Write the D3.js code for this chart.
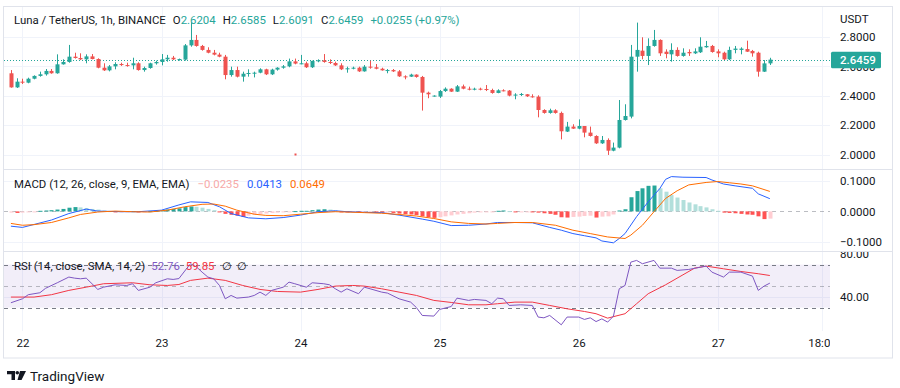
<!DOCTYPE html>
<html>
<head>
<meta charset="utf-8">
<script src="https://cdn.jsdelivr.net/npm/d3@7"></script>
<style>
  body { margin: 0; background: #fff; }
  svg { display: block; font-family: Roboto, "Noto Sans", sans-serif; }
</style>
</head>
<body>
<div id="container"></div>
<script>
// ---- data: hourly candles, first one is the 21st 22:00 ----
const open = [2.553,2.457,2.496,2.489,2.516,2.535,2.546,2.569,2.553,2.614,2.630,2.666,2.657,2.648,2.668,2.650,2.591,2.573,2.600,2.616,
  2.609,2.607,2.621,2.575,2.589,2.621,2.630,2.648,2.659,2.648,2.646,2.743,2.780,2.739,2.712,2.693,2.680,2.666,2.541,2.575,
  2.530,2.550,2.555,2.557,2.580,2.546,2.578,2.591,2.600,2.634,2.619,2.621,2.594,2.637,2.641,2.630,2.623,2.607,2.580,2.587,
  2.591,2.566,2.598,2.594,2.584,2.573,2.575,2.566,2.532,2.530,2.544,2.528,2.421,2.396,2.394,2.432,2.448,2.428,2.464,2.448,
  2.442,2.448,2.446,2.439,2.419,2.437,2.435,2.401,2.408,2.410,2.396,2.394,2.303,2.283,2.301,2.283,2.156,2.190,2.176,2.194,
  2.149,2.126,2.076,2.099,2.026,2.047,2.235,2.258,2.666,2.707,2.671,2.739,2.780,2.700,2.682,2.712,2.671,2.698,2.689,2.696,
  2.730,2.739,2.702,2.693,2.648,2.712,2.712,2.718,2.705,2.693,2.564,2.6204];
const high = [2.575,2.519,2.516,2.523,2.539,2.564,2.582,2.582,2.682,2.648,2.746,2.693,2.689,2.682,2.684,2.655,2.621,2.609,2.628,2.625,
  2.625,2.659,2.628,2.598,2.625,2.639,2.684,2.678,2.671,2.653,2.752,2.900,2.814,2.746,2.730,2.712,2.693,2.678,2.598,2.598,
  2.564,2.580,2.564,2.587,2.584,2.584,2.594,2.609,2.653,2.653,2.678,2.632,2.639,2.648,2.684,2.648,2.632,2.621,2.598,2.598,
  2.598,2.609,2.639,2.616,2.591,2.582,2.582,2.575,2.539,2.550,2.546,2.535,2.428,2.403,2.439,2.457,2.451,2.473,2.476,2.462,
  2.455,2.455,2.473,2.448,2.444,2.444,2.439,2.417,2.419,2.412,2.410,2.403,2.308,2.312,2.308,2.292,2.222,2.206,2.239,2.194,
  2.190,2.131,2.126,2.110,2.081,2.371,2.342,2.746,2.898,2.798,2.791,2.848,2.784,2.716,2.757,2.730,2.723,2.716,2.723,2.798,
  2.773,2.746,2.716,2.700,2.734,2.739,2.730,2.775,2.712,2.700,2.643,2.6585];
const low = [2.455,2.453,2.480,2.485,2.512,2.530,2.537,2.550,2.550,2.612,2.625,2.653,2.643,2.621,2.648,2.587,2.569,2.566,2.580,2.603,
  2.598,2.580,2.571,2.564,2.584,2.612,2.607,2.632,2.643,2.639,2.639,2.734,2.734,2.707,2.689,2.675,2.662,2.512,2.530,2.525,
  2.496,2.530,2.525,2.553,2.541,2.541,2.571,2.584,2.594,2.614,2.614,2.589,2.589,2.628,2.625,2.616,2.603,2.575,2.557,2.580,
  2.562,2.564,2.584,2.580,2.571,2.553,2.562,2.528,2.512,2.528,2.523,2.299,2.383,2.394,2.385,2.426,2.426,2.426,2.444,2.437,
  2.437,2.437,2.432,2.414,2.417,2.430,2.396,2.376,2.398,2.392,2.387,2.253,2.278,2.278,2.278,2.103,2.153,2.174,2.172,2.117,
  2.122,2.072,2.072,1.997,2.022,2.042,2.231,2.246,2.564,2.648,2.609,2.734,2.671,2.655,2.632,2.666,2.666,2.671,2.684,2.691,
  2.727,2.693,2.662,2.643,2.643,2.689,2.682,2.698,2.666,2.530,2.562,2.6091];
const close = [2.457,2.496,2.489,2.516,2.535,2.546,2.569,2.553,2.614,2.630,2.666,2.657,2.648,2.668,2.650,2.591,2.573,2.600,2.616,2.609,
  2.607,2.621,2.575,2.589,2.621,2.630,2.648,2.659,2.648,2.650,2.743,2.780,2.739,2.712,2.693,2.680,2.666,2.541,2.575,2.530,
  2.550,2.555,2.557,2.580,2.546,2.578,2.591,2.600,2.634,2.619,2.621,2.594,2.637,2.641,2.630,2.623,2.607,2.580,2.587,2.591,
  2.566,2.598,2.594,2.584,2.573,2.575,2.566,2.532,2.530,2.544,2.528,2.421,2.410,2.401,2.432,2.448,2.428,2.464,2.448,2.442,
  2.448,2.442,2.439,2.419,2.437,2.432,2.401,2.408,2.412,2.396,2.392,2.303,2.283,2.301,2.283,2.158,2.190,2.176,2.194,2.149,
  2.126,2.076,2.099,2.026,2.047,2.235,2.262,2.666,2.712,2.671,2.739,2.780,2.689,2.684,2.712,2.671,2.693,2.689,2.702,2.734,
  2.739,2.698,2.689,2.648,2.712,2.721,2.721,2.700,2.689,2.564,2.6204,2.6459];

// MACD histogram, one bar per candle
const macdHist = [-0.004,-0.005,-0.004,-0.002,-0.001,0.002,0.003,0.004,0.006,0.008,0.012,0.014,0.013,0.011,0.008,0.006,0.003,0.001,-0.001,-0.001,
  -0.001,0.001,-0.001,-0.001,0.001,0.002,0.004,0.006,0.008,0.010,0.014,0.016,0.015,0.012,0.008,0.004,-0.002,-0.008,-0.011,-0.014,
  -0.018,-0.014,-0.011,-0.009,-0.007,-0.005,-0.004,-0.003,-0.001,0.001,0.002,0.002,0.004,0.006,0.007,0.006,0.003,-0.001,-0.002,-0.002,
  -0.003,-0.002,-0.002,-0.003,-0.004,-0.004,-0.005,-0.007,-0.009,-0.010,-0.012,-0.016,-0.019,-0.021,-0.019,-0.016,-0.013,-0.010,-0.008,-0.006,
  -0.004,-0.002,-0.001,-0.001,0.002,0.003,0.001,-0.001,-0.001,-0.001,-0.002,-0.004,-0.006,-0.008,-0.011,-0.019,-0.020,-0.018,-0.017,-0.015,
  -0.014,-0.020,-0.017,-0.016,-0.010,0.003,0.007,0.046,0.066,0.075,0.083,0.084,0.075,0.064,0.053,0.045,0.037,0.029,0.023,0.017,
  0.013,0.007,0.002,-0.004,-0.005,-0.006,-0.008,-0.010,-0.011,-0.016,-0.025,-0.0235];

// indicator lines read at [candle index, value]
const macdLine = [[0,-0.048],[2,-0.052],[7,-0.028],[10,-0.007],[13,0.0075],[15,0.001],[19,-0.001],[22,-0.001],[26,0.004],[29,0.021],
  [31,0.031],[34,0.029],[36,0.015],[38,-0.007],[41,-0.021],[44,-0.024],[47,-0.020],[50,-0.012],[53,-0.001],[56,0.002],[58,-0.001],
  [61,-0.003],[64,-0.004],[67,-0.012],[71,-0.025],[73,-0.032],[76,-0.046],[79,-0.045],[82,-0.041],[84,-0.036],[87,-0.036],[90,-0.037],
  [93,-0.052],[95,-0.061],[97,-0.072],[99,-0.079],[101,-0.086],[102,-0.096],[104,-0.102],[105,-0.088],[106,-0.072],[108,-0.017],
  [110,0.031],[112,0.074],[113,0.104],[114,0.113],[116,0.111],[120,0.110],[121,0.102],[123,0.089],[125,0.083],[128,0.075],[129,0.057],[131,0.0413]];
const signalLine = [[0,-0.039],[2,-0.045],[4,-0.043],[7,-0.036],[10,-0.021],[12,-0.010],[15,-0.002],[18,0.001],[21,-0.001],[24,-0.002],
  [27,0.004],[30,0.015],[33,0.023],[35,0.024],[37,0.017],[39,0.004],[42,-0.009],[44,-0.013],[47,-0.014],[50,-0.009],[53,-0.004],
  [56,-0.001],[58,-0.002],[61,-0.004],[64,-0.006],[67,-0.010],[70,-0.015],[73,-0.023],[76,-0.034],[79,-0.039],[82,-0.041],[84,-0.039],
  [87,-0.036],[90,-0.036],[94,-0.045],[97,-0.061],[100,-0.072],[103,-0.083],[106,-0.088],[107,-0.077],[109,-0.045],[111,-0.001],
  [113,0.042],[115,0.067],[117,0.086],[120,0.094],[122,0.097],[124,0.093],[126,0.089],[128,0.083],[131,0.0649]];
const rsiLine = [[0,34.5],[2,38.2],[3,42],[5,43.8],[6,48],[8,53.1],[10,58.4],[11,57.4],[12,56.8],[13,57.4],[14,52.2],[15,46.9],[16,49],
  [18,51.2],[20,50.6],[21,52.2],[22,46],[24,49],[25,53.1],[27,56.8],[28,56.2],[29,57],[30,64],[31,70.8],[32,68],[33,63],[34,58.4],
  [35,56.8],[36,50.6],[37,38.2],[38,41.3],[39,38.8],[41,39.8],[42,41.3],[43,44.4],[44,41.3],[45,46],[47,49],[48,53.7],[49,52.2],
  [51,49],[52,53.1],[54,52.2],[55,51.2],[56,47.5],[57,44.4],[58,47.5],[60,42.9],[61,49],[62,47.5],[64,44.4],[65,43.5],[67,38.2],
  [69,35.1],[70,30],[71,22.7],[73,22.1],[74,28.3],[76,31],[77,38.8],[79,36.7],[80,37.6],[82,36.7],[83,33.6],[84,38.8],[85,38.2],
  [86,32],[88,32.6],[90,32],[91,21.2],[92,20.5],[93,22.7],[95,14],[96,21.2],[98,21.2],[99,19],[100,20.5],[101,17],[102,19.5],
  [103,16.5],[104,22],[105,47.5],[106,50.6],[107,72.3],[108,73.9],[109,70.8],[111,73.9],[112,66.7],[114,66.7],[115,64.6],[117,65.5],
  [120,68.6],[121,63],[123,58.4],[124,63],[126,63],[128,59.3],[129,46],[130,50],[131,52.76]];
const rsiMaLine = [[0,39.8],[4,39.8],[7,42],[10,46],[13,49],[16,52.2],[21,53.1],[24,51.2],[27,50.6],[29,51.5],[31,55.3],[34,57.4],
  [37,55.3],[40,50.6],[43,46.9],[46,45],[50,44.4],[53,46.9],[56,50],[59,50.6],[61,50],[64,47.5],[67,44.4],[70,41.3],[73,36.7],
  [76,34.8],[79,32.6],[82,32.6],[84,33.6],[87,35.1],[90,35.1],[93,32],[96,28.9],[99,26.4],[101,24.3],[103,20.2],[106,24.3],
  [108,33.6],[110,42.9],[113,51.2],[116,60.5],[118,66.7],[120,68.6],[123,66.1],[126,63.6],[129,61.5],[131,59.85]];

const priceTicks = [2.0, 2.2, 2.4, 2.6, 2.8];
const macdTicks = [-0.1, 0, 0.1];
const rsiTicks = [40, 80];
const rsiBands = [30, 50, 70];
const dayTicks = [22, 23, 24, 25, 26, 27];
const timeLabels = ["22", "23", "24", "25", "26", "27", "18:00"];
const markerCandle = [49];
const markerPrice = [2.0];

// ---- layout ----
const width = 900, height = 388;
const plotLeft = 4, plotRight = 830;
const panes = {main: [7, 169], macd: [170, 251], rsi: [252, 331]};
const upColor = "#26a69a", downColor = "#ef5350", textColor = "#131722";
const gridColor = "#f0f3fa", borderColor = "#e0e3eb";
const legendSize = "11.4px", axisSize = "11.5px";

const hour = 3600e3;
const firstCandle = Date.UTC(2022, 7, 21, 22);
const timeOf = i => new Date(firstCandle + i * hour);

const x = d3.scaleUtc()
    .domain([timeOf(0), new Date(Date.UTC(2022, 7, 27, 18))])
    .range([10.9, 822]);
const yPrice = d3.scaleLinear().domain([2.0, 2.8]).range([154.5, 37]);
const yMacd = d3.scaleLinear().domain([-0.1, 0.1]).range([242.2, 180.6]);
const yRsi = d3.scaleLinear().domain([30, 70]).range([307.6, 264.6]);

const timeTicks = dayTicks.map(d => new Date(Date.UTC(2022, 7, d))).concat([new Date(Date.UTC(2022, 7, 27, 18))]);

const svg = d3.select('#container')
    .append("svg")
    .attr("width", width)
    .attr("height", height);

const defs = svg.append("defs");
function addClip(id, y0, y1, x0, x1) {
    defs.append("clipPath").attr("id", id)
        .append("rect")
        .attr("x", x0).attr("y", y0)
        .attr("width", x1 - x0).attr("height", y1 - y0);
}
addClip("clipMain", panes.main[0], panes.main[1], plotLeft, plotRight);
addClip("clipMacd", panes.macd[0], panes.macd[1], plotLeft, plotRight);
addClip("clipRsi", panes.rsi[0], panes.rsi[1], plotLeft, plotRight);
addClip("clipTime", 330, 360, 0, plotRight);
addClip("clipRsiAxis", panes.rsi[0], panes.rsi[1], plotRight, 893);

// frame
svg.append("rect")
    .attr("x", 3.5).attr("y", 6.5)
    .attr("width", 889).attr("height", 351.5)
    .attr("fill", "none").attr("stroke", borderColor);

// vertical grid
svg.append("g").selectAll("line")
    .data(timeTicks)
    .enter().append("line")
    .attr("x1", d => Math.round(x(d)) + 0.5).attr("x2", d => Math.round(x(d)) + 0.5)
    .attr("y1", panes.main[0]).attr("y2", panes.rsi[1])
    .attr("stroke", gridColor);

// horizontal grid
function hGrid(ticks, scale) {
    svg.append("g").selectAll("line")
        .data(ticks)
        .enter().append("line")
        .attr("x1", plotLeft).attr("x2", plotRight)
        .attr("y1", d => Math.round(scale(d)) + 0.5).attr("y2", d => Math.round(scale(d)) + 0.5)
        .attr("stroke", gridColor);
}
hGrid(priceTicks, yPrice);
hGrid(macdTicks.filter(d => d !== 0), yMacd);
hGrid(rsiTicks.filter(d => d < 80), yRsi);

// pane separators
[panes.main[1] + 0.5, panes.macd[1] + 0.5].forEach(y => {
    svg.append("line")
        .attr("x1", 3.5).attr("x2", 892.5)
        .attr("y1", y).attr("y2", y)
        .attr("stroke", borderColor);
});

// ---- main pane: candles ----
const mainG = svg.append("g").attr("clip-path", "url(#clipMain)");
const candles = open.map((o, i) => ({t: timeOf(i), o: o, h: high[i], l: low[i], c: close[i]}));
const candleColor = d => d.c >= d.o ? upColor : downColor;

// last price dotted line
const lastClose = close[close.length - 1];
mainG.append("line")
    .attr("x1", plotLeft).attr("x2", plotRight)
    .attr("y1", Math.round(yPrice(lastClose)) + 0.5).attr("y2", Math.round(yPrice(lastClose)) + 0.5)
    .attr("stroke", upColor)
    .attr("stroke-dasharray", "1,2");

mainG.selectAll(".wick")
    .data(candles)
    .enter().append("line")
    .attr("class", "wick")
    .attr("x1", d => Math.round(x(d.t)) + 0.5).attr("x2", d => Math.round(x(d.t)) + 0.5)
    .attr("y1", d => yPrice(d.h)).attr("y2", d => yPrice(d.l))
    .attr("stroke", candleColor);

mainG.selectAll(".body")
    .data(candles)
    .enter().append("rect")
    .attr("class", "body")
    .attr("x", d => Math.round(x(d.t)) - 1.5)
    .attr("width", 4)
    .attr("y", d => yPrice(Math.max(d.o, d.c)))
    .attr("height", d => Math.max(1, Math.abs(yPrice(d.o) - yPrice(d.c))))
    .attr("fill", candleColor);

mainG.selectAll(".marker")
    .data(markerCandle)
    .enter().append("rect")
    .attr("x", d => Math.round(x(timeOf(d))) - 0.5)
    .attr("y", (d, i) => yPrice(markerPrice[i]) - 1)
    .attr("width", 2).attr("height", 2)
    .attr("fill", downColor);

// ---- MACD pane ----
const macdG = svg.append("g").attr("clip-path", "url(#clipMacd)");
macdG.append("line")
    .attr("x1", plotLeft).attr("x2", plotRight)
    .attr("y1", Math.round(yMacd(0)) + 0.5).attr("y2", Math.round(yMacd(0)) + 0.5)
    .attr("stroke", "#787b86").attr("stroke-opacity", 0.5)
    .attr("stroke-dasharray", "4,4");

function histColor(v, i) {
    const prev = i > 0 ? macdHist[i - 1] : v;
    if (v >= 0) return v >= prev ? "#26a69a" : "#b2dfdb";
    return v < prev ? "#ff5252" : "#ffcdd2";
}
macdG.selectAll(".hist")
    .data(macdHist)
    .enter().append("rect")
    .attr("class", "hist")
    .attr("x", (d, i) => Math.round(x(timeOf(i))) - 1.5)
    .attr("width", 4)
    .attr("y", d => Math.min(yMacd(d), yMacd(0)))
    .attr("height", d => Math.max(1, Math.abs(yMacd(d) - yMacd(0))))
    .attr("fill", histColor);

const macdPath = d3.line().x(d => x(timeOf(d[0]))).y(d => yMacd(d[1]));
macdG.append("path").datum(macdLine)
    .attr("d", macdPath).attr("fill", "none")
    .attr("stroke", "#2962ff").attr("stroke-width", 1);
macdG.append("path").datum(signalLine)
    .attr("d", macdPath).attr("fill", "none")
    .attr("stroke", "#ff6d00").attr("stroke-width", 1);

// ---- RSI pane ----
const rsiG = svg.append("g").attr("clip-path", "url(#clipRsi)");
rsiG.append("rect")
    .attr("x", plotLeft).attr("width", plotRight - plotLeft)
    .attr("y", yRsi(70)).attr("height", yRsi(30) - yRsi(70))
    .attr("fill", "#7e57c2").attr("fill-opacity", 0.1);
rsiG.selectAll(".band")
    .data(rsiBands)
    .enter().append("line")
    .attr("x1", plotLeft).attr("x2", plotRight)
    .attr("y1", d => Math.round(yRsi(d)) + 0.5).attr("y2", d => Math.round(yRsi(d)) + 0.5)
    .attr("stroke", "#787b86")
    .attr("stroke-opacity", d => d === 50 ? 0.5 : 1)
    .attr("stroke-dasharray", "4,4");

const rsiPath = d3.line().x(d => x(timeOf(d[0]))).y(d => yRsi(d[1]));
rsiG.append("path").datum(rsiMaLine)
    .attr("d", rsiPath).attr("fill", "none")
    .attr("stroke", "#f23645").attr("stroke-width", 1);
rsiG.append("path").datum(rsiLine)
    .attr("d", rsiPath).attr("fill", "none")
    .attr("stroke", "#7e57c2").attr("stroke-width", 1);

// ---- price axes ----
function priceAxis(scale, ticks, fmt, clipId) {
    const wrap = svg.append("g");
    if (clipId) wrap.attr("clip-path", "url(#" + clipId + ")");
    const g = wrap.append("g")
        .attr("transform", "translate(838,0)")
        .call(d3.axisRight(scale).tickValues(ticks).tickFormat(fmt).tickSize(0).tickPadding(2));
    g.select(".domain").remove();
    g.selectAll("text").attr("fill", textColor).style("font-size", axisSize)
        .style("font-family", 'Roboto, "Noto Sans", sans-serif');
    return g;
}
priceAxis(yPrice, priceTicks, d3.format(".4f"));
priceAxis(yMacd, macdTicks, d3.format(".4f"));
priceAxis(yRsi, rsiTicks, d3.format(".2f"), "clipRsiAxis");

svg.append("text")
    .attr("x", 840).attr("y", 23)
    .attr("fill", textColor).style("font-size", axisSize)
    .text("USDT");

// current price label
const lastG = svg.append("g");
lastG.append("rect")
    .attr("x", 831).attr("width", 50)
    .attr("y", yPrice(lastClose) - 8).attr("height", 16.5)
    .attr("rx", 1.5)
    .attr("fill", upColor);
lastG.append("text")
    .attr("x", 840).attr("y", yPrice(lastClose)).attr("dy", "0.36em")
    .attr("fill", "#fff").style("font-size", axisSize).style("font-weight", 500)
    .text(d3.format(".4f")(lastClose));

// ---- time axis ----
const timeAxis = svg.append("g")
    .attr("clip-path", "url(#clipTime)")
    .append("g")
    .attr("transform", "translate(0," + 331 + ")")
    .call(d3.axisBottom(x).tickValues(timeTicks).tickFormat((d, i) => timeLabels[i]).tickSize(0).tickPadding(8));
timeAxis.select(".domain").remove();
timeAxis.selectAll("text").attr("fill", textColor).style("font-size", axisSize)
    .style("font-family", 'Roboto, "Noto Sans", sans-serif');

// ---- legends ----
const f4 = d3.format(".4f");
const lastIdx = close.length - 1;
const change = close[lastIdx] - close[lastIdx - 1];
const changePct = change / close[lastIdx - 1] * 100;

const header = svg.append("text")
    .attr("x", 14).attr("y", 23.5)
    .style("font-size", legendSize)
    .attr("fill", textColor);
header.append("tspan").text("Luna / TetherUS, 1h, BINANCE");
[["O", open[lastIdx]], ["H", high[lastIdx]], ["L", low[lastIdx]], ["C", close[lastIdx]]].forEach(p => {
    header.append("tspan").attr("dx", 7).attr("fill", textColor).text(p[0]);
    header.append("tspan").attr("fill", upColor).text(f4(p[1]));
});
header.append("tspan").attr("dx", 7).attr("fill", upColor)
    .text("+" + f4(change) + " (+" + d3.format(".2f")(changePct) + "%)");

const macdLegend = svg.append("text")
    .attr("x", 14).attr("y", 187.5)
    .style("font-size", legendSize)
    .attr("fill", textColor);
macdLegend.append("tspan").text("MACD (12, 26, close, 9, EMA, EMA)");
macdLegend.append("tspan").attr("dx", 8).attr("fill", "#f7a9a7").text(f4(macdHist[lastIdx]));
macdLegend.append("tspan").attr("dx", 8).attr("fill", "#2962ff").text(f4(macdLine[macdLine.length - 1][1]));
macdLegend.append("tspan").attr("dx", 8).attr("fill", "#ff6d00").text(f4(signalLine[signalLine.length - 1][1]));

const rsiLegend = svg.append("text")
    .attr("x", 14).attr("y", 269.5)
    .style("font-size", legendSize)
    .attr("fill", textColor);
rsiLegend.append("tspan").text("RSI (14, close, SMA, 14, 2)");
rsiLegend.append("tspan").attr("dx", 6).attr("fill", "#7e57c2").text(d3.format(".2f")(rsiLine[rsiLine.length - 1][1]));
rsiLegend.append("tspan").attr("dx", 6).attr("fill", "#f23645").text(d3.format(".2f")(rsiMaLine[rsiMaLine.length - 1][1]));
rsiLegend.append("tspan").attr("dx", 8).text("∅");
rsiLegend.append("tspan").attr("dx", 5).text("∅");

// ---- TradingView logo ----
const logo = svg.append("g").attr("transform", "translate(7,371)");
logo.append("path")
    .attr("d", "M0,0 H8 V9 H4.5 V3.2 H0 Z M13,0 H19 L14.5,9 H10.5 Z")
    .attr("fill", textColor);
logo.append("circle").attr("cx", 10.3).attr("cy", 1.8).attr("r", 1.8).attr("fill", textColor);
svg.append("text")
    .attr("x", 30).attr("y", 381)
    .attr("fill", textColor)
    .style("font-size", "13.5px")
    .text("TradingView");
</script>
</body>
</html>
